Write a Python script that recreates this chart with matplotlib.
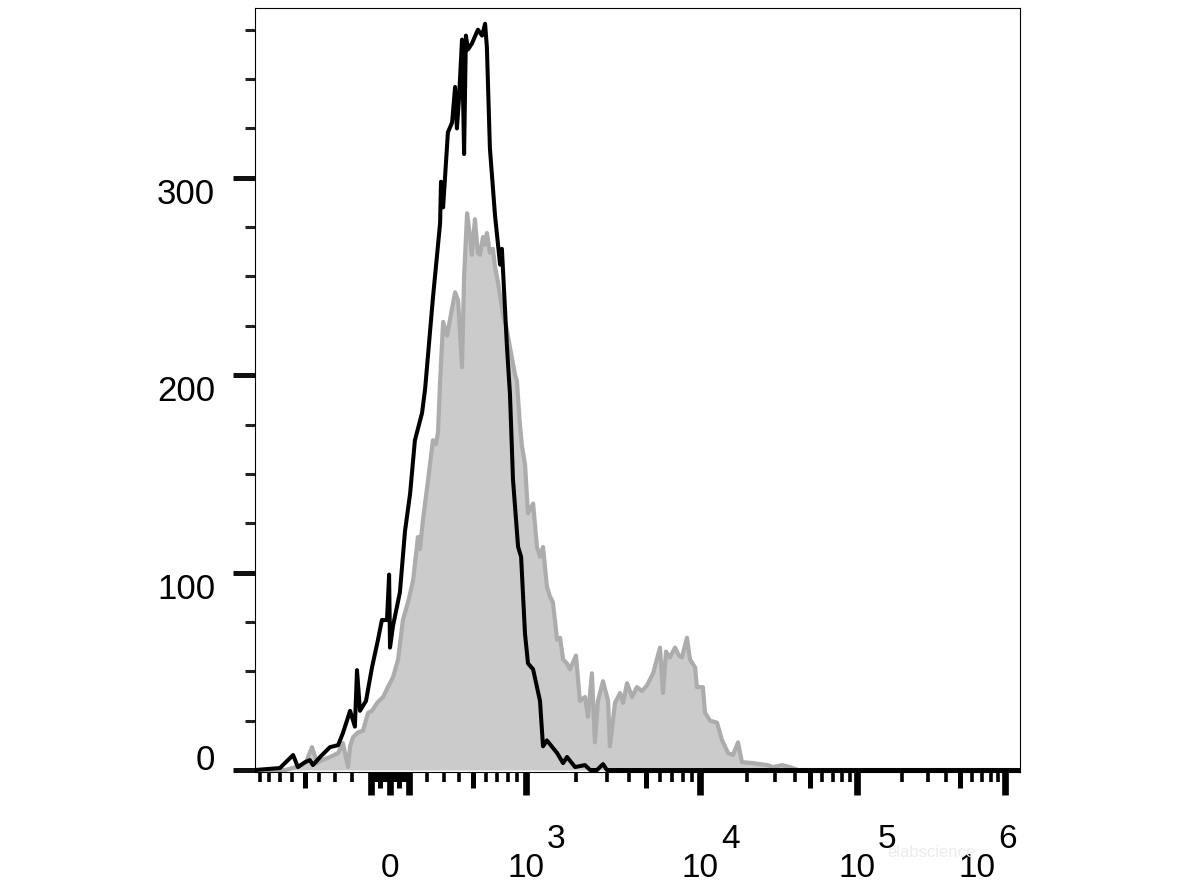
import numpy as np
import matplotlib
matplotlib.use("Agg")
import matplotlib.pyplot as plt
from matplotlib.ticker import MultipleLocator, NullLocator
from matplotlib.transforms import ScaledTranslation, blended_transform_factory

plt.rcParams['font.family'] = ['Liberation Sans', 'DejaVu Sans']

# ---------------- data (histogram channel 0..255, counts) ----------------
black_ch = [0.0, 8.3, 12.7, 14.3, 16.7, 18.3, 19.3, 21.7, 25.0, 27.7,
            29.3, 31.7, 33.3, 34.0, 35.0, 37.0, 39.0, 41.0, 42.3, 44.0,
            44.7, 45.0, 46.0, 48.3, 50.0, 51.7, 53.3, 55.7, 56.7, 59.3,
            61.7, 62.0, 62.7, 64.3, 65.7, 66.7, 67.3, 68.0, 69.0, 69.7,
            70.3, 71.0, 72.3, 74.3, 75.7, 76.7, 77.3, 78.3, 80.0, 81.7,
            82.3, 84.0, 85.0, 86.0, 87.7, 88.7, 90.0, 91.0, 92.7, 95.0,
            96.0, 97.3, 100.7, 102.7, 104.0, 106.7, 110.0, 111.7, 114.0, 116.0,
            117.3, 255.0]
black_counts = [0, 1, 7.6, 1.5, 4, 5, 2.5, 6.6, 11.6, 12.6,
                18.7, 30, 22, 50.6, 30, 35, 52, 66, 76, 76,
                99, 62, 73, 90, 121, 140, 167, 181, 193, 239,
                277, 298, 285, 323, 328, 346, 325, 340, 370, 312,
                372, 365, 368, 375, 372, 378, 366, 315, 281, 256,
                264, 214, 190, 147, 113, 108, 69, 54, 51, 35,
                12, 15, 8.6, 3.5, 6.6, 1.5, 2.5, 0, 0, 3,
                0, 0]

gray_ch = [0.0, 10.0, 15.0, 17.0, 19.0, 20.7, 22.3, 25.0, 27.7, 29.3,
           31.0, 31.7, 32.7, 34.3, 36.0, 37.7, 39.0, 40.7, 42.7, 44.3,
           46.0, 47.7, 49.3, 51.0, 52.7, 54.3, 55.0, 56.0, 57.7, 59.3,
           60.3, 61.0, 61.7, 62.7, 64.0, 65.7, 66.7, 67.7, 69.0, 69.7,
           70.7, 71.7, 72.3, 73.3, 74.3, 75.0, 76.0, 76.7, 77.3, 78.3,
           79.3, 80.0, 81.0, 82.7, 83.7, 85.0, 86.7, 87.3, 88.3, 89.0,
           90.0, 91.0, 92.7, 94.0, 95.0, 96.0, 97.3, 98.3, 99.3, 100.7,
           101.7, 102.7, 104.0, 105.0, 107.0, 108.3, 110.0, 111.0, 112.3, 113.3,
           114.3, 116.0, 117.7, 118.3, 120.0, 121.7, 122.7, 124.0, 125.7, 127.3,
           129.0, 130.7, 132.7, 135.0, 136.0, 137.0, 138.3, 140.0, 141.3, 142.3,
           144.0, 145.0, 146.7, 147.3, 149.3, 150.0, 151.7, 154.0, 155.7, 157.7,
           159.3, 161.0, 162.3, 166.0, 170.7, 172.7, 175.7, 178.3, 181.0, 255.0]
gray_counts = [0, 0, 2, 4, 11.6, 3.5, 5, 6.6, 8.6, 13.7,
               1.5, 12, 16.7, 19, 20, 29, 30, 34, 37, 42,
               47, 56, 76, 85, 96, 118, 112, 127, 147, 167,
               165, 171, 197, 227, 220, 234, 242, 238, 204, 250,
               282, 270, 261, 279, 262, 261, 270, 266, 272, 262,
               264, 255, 247, 230, 225, 214, 200, 197, 175, 164,
               155, 130, 135, 113, 108, 113, 93, 88, 85, 66,
               67, 56, 54, 51, 58, 35, 37, 27, 49, 14,
               35, 45, 35, 12, 34, 39, 34, 44, 37, 42,
               40, 43, 49, 62, 39, 60, 57, 62, 58, 57,
               67, 56, 52, 42, 42, 29, 25, 24, 15, 8.6,
               7.6, 14, 4, 3.5, 2.5, 1.5, 2.5, 1.5, 0, 0]

# axis calibration: fluorescence value -> channel (biexponential display)
anchor_vals = [-1000, 0, 1e3, 1e4, 1e5, 1e6]
anchor_ch = [-1.5, 45.0, 90.3, 148.3, 200.7, 250.0]
LIN_W = 500.0

y_major = [0, 100, 200, 300]
y_labels = ['0', '100', '200', '300']
x_label_vals = [1e3, 1e4, 1e5, 1e6]
x_exponents = ['3', '4', '5', '6']


def val_to_ch(v):
    v = np.asarray(v, dtype=float)
    return np.interp(np.arcsinh(v / LIN_W), np.arcsinh(np.array(anchor_vals) / LIN_W), anchor_ch)


# tick values
long_vals = [-100, 0, 100, 1e3, 1e4, 1e5, 1e6]
mid_vals = [-500, -50, 50, 500, 5e3, 5e4, 5e5]
short_vals = []
for m in range(1, 10):
    if m == 5:
        continue
    short_vals += [-10 * m, 10 * m]
    if m > 1:
        short_vals += [-100 * m, 100 * m, 1000 * m, 10000 * m, 100000 * m]

# ---------------- figure ----------------
fig = plt.figure(figsize=(11.78, 8.83), dpi=100)
ax = fig.add_axes([255 / 1178, 111 / 883, 765 / 1178, 764 / 883])

ax.fill_between(gray_ch, gray_counts, 0, color='#cbcbcb', lw=0, zorder=1)
ax.plot(gray_ch, gray_counts, color='#acacac', lw=3.0, zorder=2)
ax.plot(black_ch, black_counts, color='black', lw=2.9, zorder=3,
        clip_on=False, solid_capstyle='butt')

ax.set_xlim(0, 255)
ax.set_ylim(-1, 386)

for s in ax.spines.values():
    s.set_linewidth(0.8)

# y axis
ax.set_yticks(y_major)
ax.set_yticklabels(y_labels)
ax.yaxis.set_minor_locator(MultipleLocator(25))
ax.tick_params(axis='y', which='major', length=15.8, width=3.6, pad=13,
               labelsize=25, direction='out', color='#111111')
ax.tick_params(axis='y', which='minor', length=7, width=2.2, direction='out',
               color='#222222')
for lab, txt in zip(ax.get_yticklabels(), y_labels):
    lab.set_va('baseline' if txt == '0' else 'top')

# x axis ticks
ax.set_xticks(val_to_ch(long_vals))
ax.set_xticklabels([])
ax.set_xticks(val_to_ch(short_vals), minor=True)
ax.tick_params(axis='x', which='major', length=16.5, width=4.8, direction='out',
               labelbottom=False)
ax.tick_params(axis='x', which='minor', length=7.2, width=2.6, direction='out')

sec = ax.secondary_xaxis('bottom')
sec.set_xticks(val_to_ch(mid_vals))
sec.xaxis.set_minor_locator(NullLocator())
sec.tick_params(axis='x', which='major', length=11.5, width=3.6, direction='out',
                labelbottom=False)
sec.spines['bottom'].set_visible(False)

# x labels
bt = blended_transform_factory(ax.transData, ax.transAxes)
base_off = ScaledTranslation(0, -105 / 100, fig.dpi_scale_trans)
ax.text(float(val_to_ch(0)), 0, '0', transform=bt + base_off, ha='center',
        va='baseline', fontsize=24)
for v, e in zip(x_label_vals, x_exponents):
    c = float(val_to_ch(v))
    dx = -28 / 100 if v == 1e6 else 0.0
    ax.text(c, 0, '10', transform=bt + ScaledTranslation(dx, -105 / 100, fig.dpi_scale_trans),
            ha='center', va='baseline', fontsize=24)
    ax.text(c, 0, e, transform=bt + ScaledTranslation(dx + 21 / 100, -76 / 100, fig.dpi_scale_trans),
            ha='left', va='baseline', fontsize=24)

# faint watermark
fig.text(887 / 1178, 1 - 857 / 883, 'elabscience', fontsize=12, color='#ececec', zorder=0)

fig.savefig('out.png', dpi=100)
